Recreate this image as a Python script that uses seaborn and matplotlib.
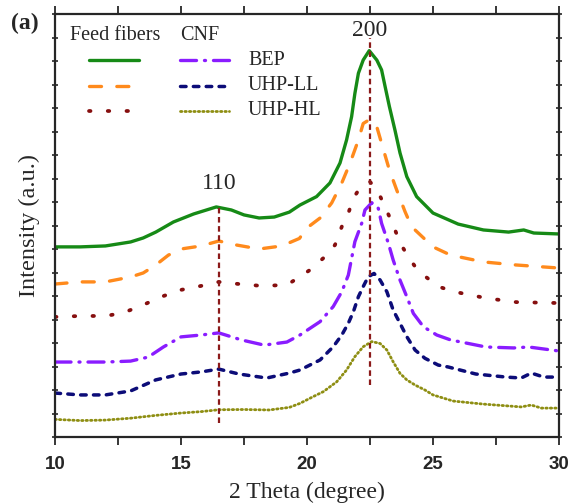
import numpy as np
import pandas as pd
import matplotlib
matplotlib.use("Agg")
import matplotlib.pyplot as plt
import seaborn as sns
from matplotlib.ticker import MultipleLocator, NullFormatter

# ---------------- data ----------------
feed_bep_x = [10, 11, 12, 13, 13.5, 14, 14.7, 15.5, 16.4, 17, 17.5, 18.1, 18.7, 19.3, 19.72, 20.38,
              20.91, 21.31, 21.57, 21.77, 21.90, 22.04, 22.23, 22.47, 22.77, 22.96, 23.10, 23.27,
              23.49, 23.69, 23.96, 24.35, 25.0, 26, 27, 28, 28.6, 29, 30]
feed_bep_y = [8.09, 8.09, 8.13, 8.30, 8.47, 8.72, 9.15, 9.49, 9.79, 9.66, 9.45, 9.32, 9.36, 9.57, 9.87, 10.23,
              10.81, 11.66, 12.64, 13.63, 14.62, 15.48, 16.04, 16.44, 16.04, 15.62, 14.91, 14.06,
              13.06, 12.09, 11.08, 10.23, 9.53, 9.06, 8.81, 8.72, 8.81, 8.68, 8.64]

feed_ll_x = [10, 11, 12, 13, 13.5, 14, 14.5, 15, 15.8, 16.5, 17.2, 18.1, 19, 19.7, 19.99, 20.52,
             20.98, 21.38, 21.71, 22.04, 22.23, 22.5, 22.77, 23.0, 23.27, 23.56, 23.89, 24.15,
             25, 25.7, 27, 28.3, 30]
feed_ll_y = [6.51, 6.60, 6.60, 6.81, 6.98, 7.32, 7.74, 8.00, 8.13, 8.34, 8.17, 8.00, 8.13, 8.45, 8.89, 9.32,
             9.96, 10.81, 11.66, 12.64, 13.34, 13.52, 13.20, 12.35, 11.36, 10.51, 9.59, 8.95,
             8.09, 7.74, 7.45, 7.32, 7.19]

feed_hl_x = [10, 11, 12, 12.7, 13.5, 14.2, 15, 15.8, 16.5, 17.3, 18.2, 19.2, 19.72, 20.12, 20.71,
             21.11, 21.38, 21.64, 21.84, 22.1, 22.5, 22.82, 23.15, 23.42, 23.62, 23.82, 24.02,
             24.29, 24.62, 24.88, 25.21, 25.9, 27.1, 28.3, 30]
feed_hl_y = [5.11, 5.15, 5.15, 5.28, 5.62, 5.96, 6.26, 6.43, 6.60, 6.51, 6.43, 6.47, 6.82, 7.11, 7.67,
             8.17, 8.95, 9.52, 10.16, 10.60, 10.86, 10.44, 9.66, 9.02, 8.46, 8.03, 7.67,
             7.25, 6.89, 6.68, 6.40, 6.17, 5.91, 5.74, 5.70]

cnf_bep_x = [10, 11, 12, 13, 13.7, 14.3, 15, 15.8, 16.5, 17.4, 18.3, 19.2, 19.72, 20.52, 21.04,
             21.38, 21.64, 21.9, 22.17, 22.30, 22.57, 22.83, 22.96, 23.23, 23.42, 23.69, 23.96,
             24.22, 24.62, 25.15, 25.7, 27.1, 28.2, 28.8, 30]
cnf_bep_y = [3.19, 3.19, 3.19, 3.23, 3.40, 3.83, 4.26, 4.34, 4.43, 4.13, 3.91, 4.04, 4.34, 4.91, 5.55,
             6.18, 6.89, 8.31, 9.09, 9.66, 9.97, 9.73, 9.09, 8.24, 7.53, 6.68, 5.97,
             5.26, 4.69, 4.34, 4.13, 3.83, 3.79, 3.83, 3.66]

cnf_ll_x = [10, 11, 12, 13, 14, 15, 15.8, 16.5, 17.3, 18.4, 19.3, 19.72, 20.52, 21.04, 21.38, 21.64,
            21.84, 22.04, 22.23, 22.43, 22.66, 22.9, 23.17, 23.42, 23.69, 23.96, 24.29, 24.68,
            25.21, 25.6, 26.7, 27.9, 28.5, 28.9, 29.4, 30]
cnf_ll_y = [1.87, 1.79, 1.79, 1.96, 2.43, 2.68, 2.77, 2.89, 2.68, 2.51, 2.72, 2.85, 3.28, 3.84, 4.34, 4.84,
            5.33, 5.97, 6.40, 6.82, 6.96, 6.68, 6.18, 5.40, 4.84, 4.27, 3.70, 3.35,
            3.06, 2.98, 2.68, 2.55, 2.51, 2.72, 2.55, 2.55]

cnf_hl_x = [10, 11, 12, 13, 14, 15, 15.8, 16.5, 17.5, 18.5, 19.3, 19.72, 20.25, 20.65, 21.18, 21.57,
            21.9, 22.23, 22.57, 22.9, 23.17, 23.42, 23.69, 23.96, 24.29, 24.68, 25.0, 25.8,
            27, 28, 28.5, 28.9, 29.3, 30]
cnf_hl_y = [0.75, 0.70, 0.72, 0.80, 0.92, 1.02, 1.08, 1.16, 1.17, 1.15, 1.26, 1.43, 1.72, 1.93, 2.35, 2.85,
            3.42, 3.84, 4.06, 3.98, 3.70, 3.20, 2.71, 2.43, 2.21, 2.00, 1.79, 1.53,
            1.40, 1.32, 1.28, 1.36, 1.23, 1.23]

peak_labels = ["110", "200"]
peak_pos = [16.5, 22.5]
peak_line_lo = [0.6, 2.2]
peak_line_hi = [9.8, 17.0]
peak_text_y = [10.8, 17.3]

legend_labels = ["BEP", "UHP-LL", "UHP-HL"]
x_ticks = [10, 15, 20, 25, 30]

# ---------------- styles ----------------
styles = {
    "feed_bep": dict(color="#168a16", ls="-", lw=2.4),
    "feed_ll": dict(color="#ff8a1c", ls=(0, (3.6, 4.6)), lw=2.4),
    "feed_hl": dict(color="#860f0f", ls=(0, (0.4, 4.6)), lw=2.7),
    "cnf_bep": dict(color="#8a1cff", ls=(0, (4.8, 2.4, 0.3, 2.4)), lw=2.4),
    "cnf_ll": dict(color="#0c0c78", ls=(0, (1.6, 2.1)), lw=2.5),
    "cnf_hl": dict(color="#8e8e12", ls=(0, (0.5, 1.1)), lw=2.0),
}

sns.set_style("ticks")
plt.rcParams["font.family"] = ["Liberation Serif", "DejaVu Serif"]

fig = plt.figure(figsize=(5.69, 5.04), dpi=100)
ax = fig.add_axes([55 / 569, (504 - 437) / 504, 504 / 569, 423 / 504])

series = [
    ("feed_bep", feed_bep_x, feed_bep_y),
    ("feed_ll", feed_ll_x, feed_ll_y),
    ("feed_hl", feed_hl_x, feed_hl_y),
    ("cnf_bep", cnf_bep_x, cnf_bep_y),
    ("cnf_ll", cnf_ll_x, cnf_ll_y),
    ("cnf_hl", cnf_hl_x, cnf_hl_y),
]
for key, xs, ys in series:
    st = styles[key]
    df = pd.DataFrame({"x": xs, "y": ys})
    sns.lineplot(data=df, x="x", y="y", ax=ax, color=st["color"], lw=st["lw"],
                 estimator=None, sort=False)
    ln = ax.lines[-1]
    ln.set_linestyle(st["ls"])
    ln.set_dash_capstyle("round")
    ln.set_solid_joinstyle("round")

# peak markers
for lab, px, lo, hi, ty in zip(peak_labels, peak_pos, peak_line_lo, peak_line_hi, peak_text_y):
    ax.plot([px, px], [lo, hi], color="#8b1a1a", lw=1.6, ls=(0, (2.5, 1.6)))
    ax.text(px, ty, lab, ha="center", va="center", fontsize=17)

ax.set_xlim(10, 30)
ax.set_ylim(0, 18)
ax.set_xticks(x_ticks)
ax.xaxis.set_minor_locator(MultipleLocator(2.5))
ax.yaxis.set_major_locator(MultipleLocator(1))
ax.yaxis.set_major_formatter(NullFormatter())
ax.tick_params(axis="x", which="both", direction="out", length=6, width=1.3,
               top=True, labelsize=13.5, pad=8)
ax.tick_params(axis="y", which="both", direction="inout", length=5, width=1.2,
               left=True, right=True)
for lab in ax.get_xticklabels():
    lab.set_fontfamily("Liberation Sans")
    lab.set_fontweight("bold")
for sp in ax.spines.values():
    sp.set_linewidth(1.6)
    sp.set_visible(True)

ax.set_xlabel("2 Theta (degree)", fontsize=17, labelpad=6)
ax.set_ylabel("Intensity (a.u.)", fontsize=17.5, labelpad=5)

# legend (drawn in axes fraction)
T = ax.transAxes
ax.text(0.030, 0.950, "Feed fibers", transform=T, fontsize=14.5, va="center", ha="left")
ax.text(0.248, 0.950, "CNF", transform=T, fontsize=14.5, va="center", ha="left")
rows_y = [0.891, 0.830, 0.771]
feed_keys = ["feed_bep", "feed_ll", "feed_hl"]
cnf_keys = ["cnf_bep", "cnf_ll", "cnf_hl"]
for ry, fk, ck, lab in zip(rows_y, feed_keys, cnf_keys, legend_labels):
    for key, x0, x1 in [(fk, 0.067, 0.167), (ck, 0.248, 0.345)]:
        st = styles[key]
        l, = ax.plot([x0, x1], [ry, ry], transform=T, color=st["color"], lw=st["lw"])
        l.set_linestyle(st["ls"])
        l.set_dash_capstyle("round")
    ax.text(0.383, ry, lab, transform=T, fontsize=14.5, va="center", ha="left")

fig.text(11 / 569, 1 - 23 / 504, "(a)", fontsize=17, fontweight="bold", va="center", ha="left")

fig.savefig("out.png", dpi=100)
